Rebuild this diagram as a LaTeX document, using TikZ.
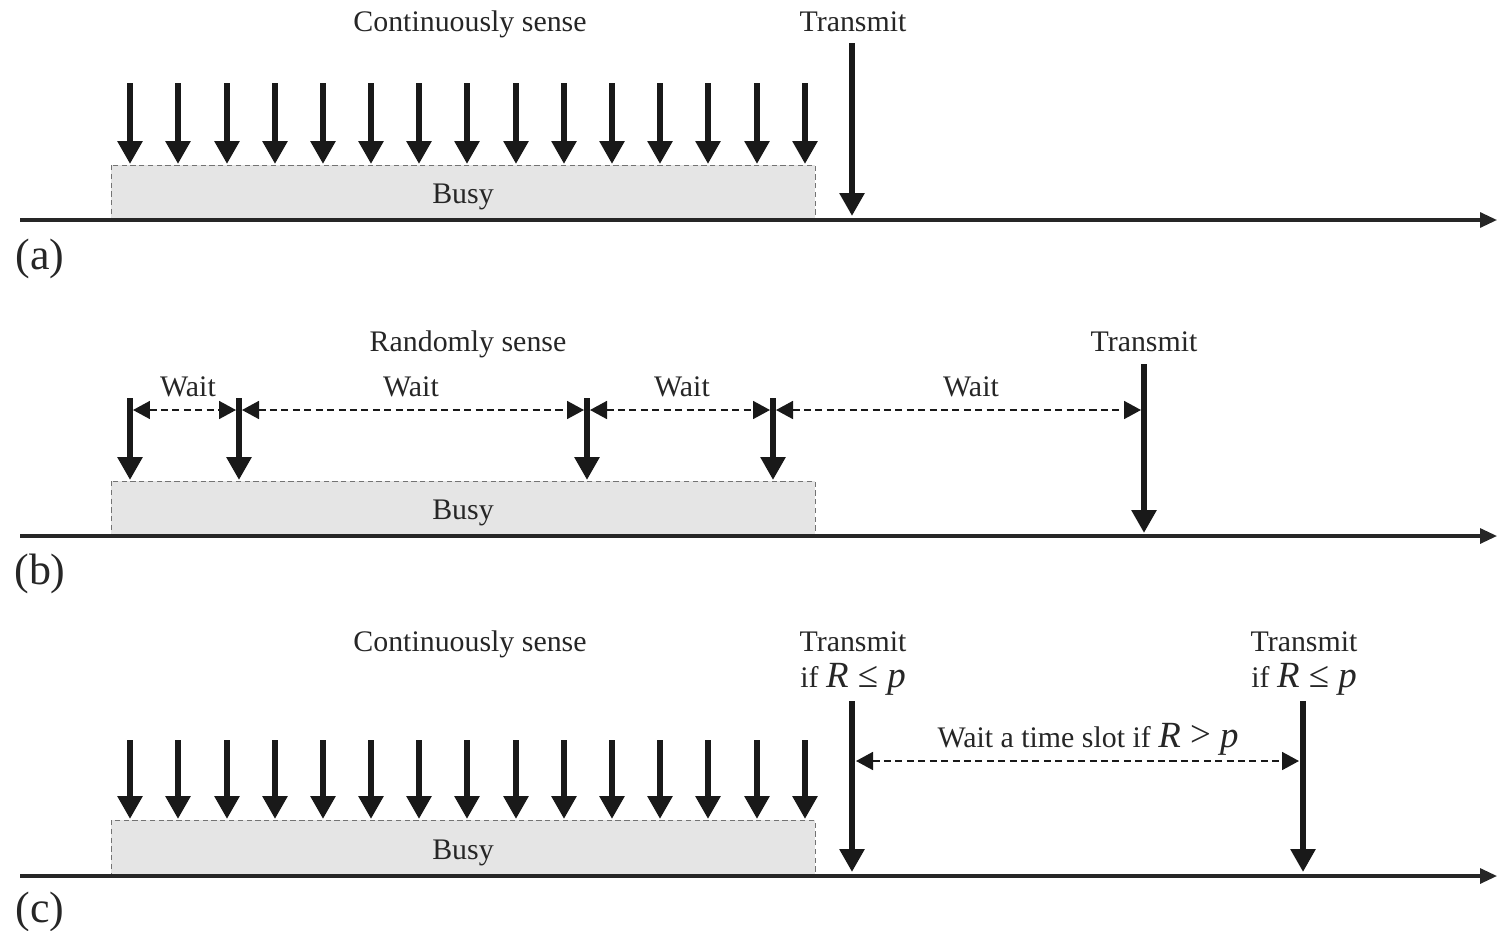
\documentclass[tikz,border=0pt]{standalone}
\usepackage{fontspec}
\setmainfont{Liberation Serif}
\usetikzlibrary{arrows.meta}
\begin{document}
\begin{tikzpicture}[x=0.02cm,y=-0.02cm,
  axis/.style={line width=1.8pt, draw=black!85, -{Triangle[length=0.34cm,width=0.3cm]}},
  busybox/.style={fill=black!10, draw=black!55, densely dashed, line width=0.5pt},
  sensearrow/.style={line width=3.4pt, draw=black!90, -{Triangle[length=0.46cm,width=0.48cm]}},
  waitline/.style={line width=1pt, draw=black!90, dash pattern=on 4pt off 2.5pt,
    {Triangle[length=0.34cm,width=0.36cm]}-{Triangle[length=0.34cm,width=0.36cm]}},
  lbl/.style={font=\fontsize{17}{20}\selectfont, inner sep=0pt, anchor=base, text=black!85},
  panel/.style={font=\fontsize{25}{30}\selectfont, inner sep=0pt, anchor=base, text=black!85}]
\useasboundingbox (0,0) rectangle (1497,930);

% ---------- (a) ----------
\path[busybox] (111,165) rectangle (815,220);
\node[lbl] (busyA) at (463,203) {Busy};
\coordinate (axA0) at (20,220);
\coordinate (axA1) at (1497,220);
\draw[axis] (axA0) -- (axA1);
\foreach \i/\x in {1/130,2/178,3/227,4/275,5/323,6/371,7/419,8/467,9/516,10/564,11/612,12/660,13/708,14/757,15/805}{
  \coordinate (aS\i) at (\x,83);
  \coordinate (aE\i) at (\x,164);
  \draw[sensearrow] (aS\i) -- (aE\i);
}
\coordinate (aTs) at (852,43);
\coordinate (aTe) at (852,216);
\draw[sensearrow] (aTs) -- (aTe);
\node[lbl] (contA) at (470,31) {Continuously sense};
\node[lbl] (trA) at (853,31) {Transmit};
\node[panel] (pa) at (40,269) {(a)};

% ---------- (b) ----------
\path[busybox] (111,481) rectangle (815,536);
\node[lbl] (busyB) at (463,519) {Busy};
\coordinate (axB0) at (20,536);
\coordinate (axB1) at (1497,536);
\draw[axis] (axB0) -- (axB1);
\foreach \i/\x in {1/130,2/239,3/587,4/773}{
  \coordinate (bS\i) at (\x,398);
  \coordinate (bE\i) at (\x,480);
  \draw[sensearrow] (bS\i) -- (bE\i);
}
\coordinate (bTs) at (1144,364);
\coordinate (bTe) at (1144,533);
\draw[sensearrow] (bTs) -- (bTe);
\coordinate (w1a) at (133,410); \coordinate (w1b) at (236,410);
\coordinate (w2a) at (242,410); \coordinate (w2b) at (584,410);
\coordinate (w3a) at (590,410); \coordinate (w3b) at (770,410);
\coordinate (w4a) at (776,410); \coordinate (w4b) at (1141,410);
\draw[waitline] (w1a) -- (w1b);
\draw[waitline] (w2a) -- (w2b);
\draw[waitline] (w3a) -- (w3b);
\draw[waitline] (w4a) -- (w4b);
\node[lbl] (wt1) at (188,396) {Wait};
\node[lbl] (wt2) at (411,396) {Wait};
\node[lbl] (wt3) at (682,396) {Wait};
\node[lbl] (wt4) at (971,396) {Wait};
\node[lbl] (randB) at (468,351) {Randomly sense};
\node[lbl] (trB) at (1144,351) {Transmit};
\node[panel] (pb) at (40,584) {(b)};

% ---------- (c) ----------
\path[busybox] (111,820) rectangle (815,876);
\node[lbl] (busyC) at (463,859) {Busy};
\coordinate (axC0) at (20,876);
\coordinate (axC1) at (1497,876);
\draw[axis] (axC0) -- (axC1);
\foreach \i/\x in {1/130,2/178,3/227,4/275,5/323,6/371,7/419,8/467,9/516,10/564,11/612,12/660,13/708,14/757,15/805}{
  \coordinate (cS\i) at (\x,740);
  \coordinate (cE\i) at (\x,819);
  \draw[sensearrow] (cS\i) -- (cE\i);
}
\coordinate (cT1s) at (852,701);
\coordinate (cT1e) at (852,872);
\draw[sensearrow] (cT1s) -- (cT1e);
\coordinate (cT2s) at (1303,701);
\coordinate (cT2e) at (1303,872);
\draw[sensearrow] (cT2s) -- (cT2e);
\coordinate (wca) at (856,761); \coordinate (wcb) at (1299,761);
\draw[waitline] (wca) -- (wcb);
\node[lbl] (wtc) at (1088,747) {Wait a time slot if {\fontsize{21}{24}\selectfont\textit{R}~\raisebox{0.5pt}{>}~\textit{p}}};
\node[lbl] (contC) at (470,651) {Continuously sense};
\node[lbl] (trC1) at (853,651) {Transmit};
\node[lbl] (ifC1) at (853,687) {if {\fontsize{21}{24}\selectfont\textit{R}~≤~\textit{p}}};
\node[lbl] (trC2) at (1304,651) {Transmit};
\node[lbl] (ifC2) at (1304,687) {if {\fontsize{21}{24}\selectfont\textit{R}~≤~\textit{p}}};
\node[panel] (pc) at (40,922) {(c)};
\end{tikzpicture}
\end{document}
